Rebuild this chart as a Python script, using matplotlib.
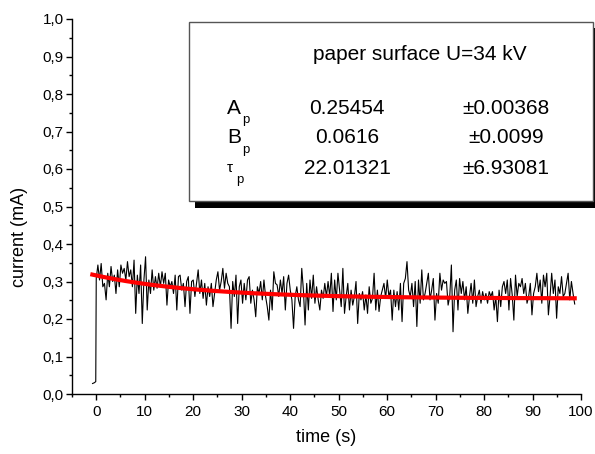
import matplotlib
matplotlib.use("Agg")
import matplotlib.pyplot as plt
import matplotlib.ticker as ticker
from matplotlib.patches import Rectangle
import numpy as np

plt.rcParams['font.family'] = ['Liberation Sans', 'DejaVu Sans']

# fit parameters shown in the box
fit_A, fit_A_err = 0.25454, 0.00368
fit_B, fit_B_err = 0.0616, 0.0099
fit_tau, fit_tau_err = 22.01321, 6.93081

# baseline before the voltage step
t_pre = [-0.76, -0.4, -0.1]
i_pre = [0.028, 0.030, 0.033]

i_meas = [
    0.308, 0.344, 0.304, 0.348, 0.286, 0.295, 0.251, 0.322, 0.286, 0.340,
    0.300, 0.317, 0.268, 0.331, 0.286, 0.344, 0.322, 0.335, 0.304, 0.353,
    0.313, 0.331, 0.286, 0.357, 0.215, 0.317, 0.268, 0.344, 0.188, 0.304,
    0.366, 0.224, 0.304, 0.268, 0.331, 0.277, 0.313, 0.282, 0.322, 0.286,
    0.326, 0.295, 0.322, 0.237, 0.304,
    0.286, 0.300, 0.268, 0.317, 0.224, 0.313, 0.317, 0.277, 0.295, 0.233,
    0.300, 0.313, 0.215, 0.300, 0.304, 0.260, 0.295, 0.331, 0.268, 0.304,
    0.255, 0.295, 0.237, 0.286, 0.260, 0.295, 0.233, 0.268, 0.304, 0.326,
    0.277, 0.300, 0.335, 0.282, 0.322, 0.295, 0.286, 0.175, 0.300, 0.260,
    0.317, 0.188, 0.286, 0.304, 0.242, 0.295, 0.251, 0.304, 0.313,
    0.242, 0.277, 0.251, 0.206, 0.286, 0.268, 0.300, 0.251, 0.304, 0.260,
    0.233, 0.197, 0.277, 0.224, 0.326, 0.295, 0.291, 0.260, 0.304, 0.268,
    0.313, 0.224, 0.295, 0.317, 0.277, 0.251, 0.175, 0.260, 0.286, 0.251,
    0.233, 0.335, 0.277, 0.184, 0.295, 0.224, 0.304, 0.255, 0.317, 0.242,
    0.286, 0.251, 0.224, 0.277, 0.255, 0.295, 0.260, 0.300, 0.260,
    0.322, 0.220, 0.304, 0.251, 0.322, 0.277, 0.233, 0.335, 0.215, 0.260,
    0.295, 0.224, 0.277, 0.237, 0.260, 0.300, 0.188, 0.268, 0.251, 0.273,
    0.224, 0.264, 0.215, 0.286, 0.242, 0.255, 0.322, 0.224, 0.277, 0.220,
    0.260, 0.277, 0.295, 0.255, 0.304, 0.260, 0.277, 0.197, 0.277, 0.233,
    0.273, 0.224, 0.295, 0.193, 0.295, 0.308, 0.353, 0.277, 0.260,
    0.295, 0.233, 0.300, 0.180, 0.304, 0.242, 0.331, 0.251, 0.268, 0.295,
    0.322, 0.251, 0.277, 0.308, 0.197, 0.268, 0.242, 0.322, 0.277, 0.304,
    0.295, 0.300, 0.237, 0.260, 0.344, 0.166, 0.277, 0.304, 0.224, 0.308,
    0.268, 0.300, 0.251, 0.286, 0.215, 0.260, 0.295, 0.242, 0.304, 0.233,
    0.260, 0.277, 0.242, 0.273, 0.251, 0.268, 0.242, 0.273, 0.260,
    0.273, 0.224, 0.260, 0.193, 0.277, 0.233, 0.286, 0.300, 0.268, 0.304,
    0.224, 0.308, 0.264, 0.197, 0.317, 0.260, 0.295, 0.286, 0.308, 0.268,
    0.295, 0.242, 0.260, 0.295, 0.211, 0.268, 0.286, 0.322, 0.273, 0.304,
    0.242, 0.317, 0.286, 0.322, 0.211, 0.260, 0.322, 0.268, 0.304, 0.202,
    0.286, 0.268, 0.313, 0.260, 0.268,
    0.295, 0.322, 0.251, 0.300, 0.268, 0.240,
]
t_end = 98.7

x_ticks = list(range(0, 101, 10))
y_ticks = [0.0, 0.1, 0.2, 0.3, 0.4, 0.5, 0.6, 0.7, 0.8, 0.9, 1.0]

W, H = 595, 454


def fx(px):
    return px / W


def fy(py):
    return 1 - py / H


fig = plt.figure(figsize=(W / 100, H / 100), dpi=100)
ax = fig.add_axes([fx(72), fy(394), fx(581) - fx(72), fy(19) - fy(394)])

t_meas = np.linspace(0, t_end, len(i_meas))
t_all = np.concatenate([t_pre, t_meas])
i_all = np.concatenate([i_pre, i_meas])
ax.plot(t_all, i_all, color='black', lw=0.8, zorder=2)

t_fit = np.linspace(-0.8, t_end, 300)
ax.plot(t_fit, fit_A + fit_B * np.exp(-t_fit / fit_tau), color='#ff0000', lw=3, zorder=3)

ax.set_xlim(-5, 100)
ax.set_ylim(0, 1.0)
ax.set_xticks(x_ticks)
ax.set_yticks(y_ticks)
ax.xaxis.set_minor_locator(ticker.MultipleLocator(5))
ax.yaxis.set_minor_locator(ticker.MultipleLocator(0.05))
ax.yaxis.set_major_formatter(ticker.FuncFormatter(lambda v, p: f'{v:.1f}'.replace('.', ',')))
ax.tick_params(which='major', direction='out', length=4, width=1, labelsize=11, pad=2)
ax.tick_params(which='minor', direction='out', length=2.5, width=1)
ax.tick_params(axis='x', which='major', pad=4)
for s in ['top', 'right']:
    ax.spines[s].set_visible(False)
for s in ['left', 'bottom']:
    ax.spines[s].set_linewidth(1)

ax.set_xlabel('time (s)', fontsize=13, labelpad=7)
ax.set_ylabel('current (mA)', fontsize=13)
ax.yaxis.set_label_coords(-0.086, 0.42)

# legend box with shadow
shadow = Rectangle((fx(195), fy(208)), fx(600) - fx(195), fy(28) - fy(208),
                   transform=fig.transFigure, facecolor='black', edgecolor='none')
box = Rectangle((fx(189), fy(201)), fx(593) - fx(189), fy(22) - fy(201),
                transform=fig.transFigure, facecolor='white', edgecolor='#555555', lw=1)
fig.add_artist(shadow)
fig.add_artist(box)

fs = 15
fig.text(fx(420), fy(55), 'paper surface U=34 kV', fontsize=fs, ha='center', va='center')
rows = [('A', f'{fit_A}', f'±{fit_A_err:.5f}', 108),
        ('B', f'{fit_B}', f'±{fit_B_err}', 138),
        ('τ', f'{fit_tau}', f'±{fit_tau_err}', 168)]
for name, val, err, yy in rows:
    fig.text(fx(227), fy(yy), name, fontsize=fs if name != 'τ' else 11, ha='left', va='center')
    sub_x = 242 if name != 'τ' else 236
    fig.text(fx(sub_x), fy(yy + 12), 'p', fontsize=9.5, ha='left', va='center')
    fig.text(fx(347), fy(yy), val, fontsize=fs, ha='center', va='center')
    fig.text(fx(506), fy(yy), err, fontsize=fs, ha='center', va='center')

fig.savefig('out.png', dpi=100)
